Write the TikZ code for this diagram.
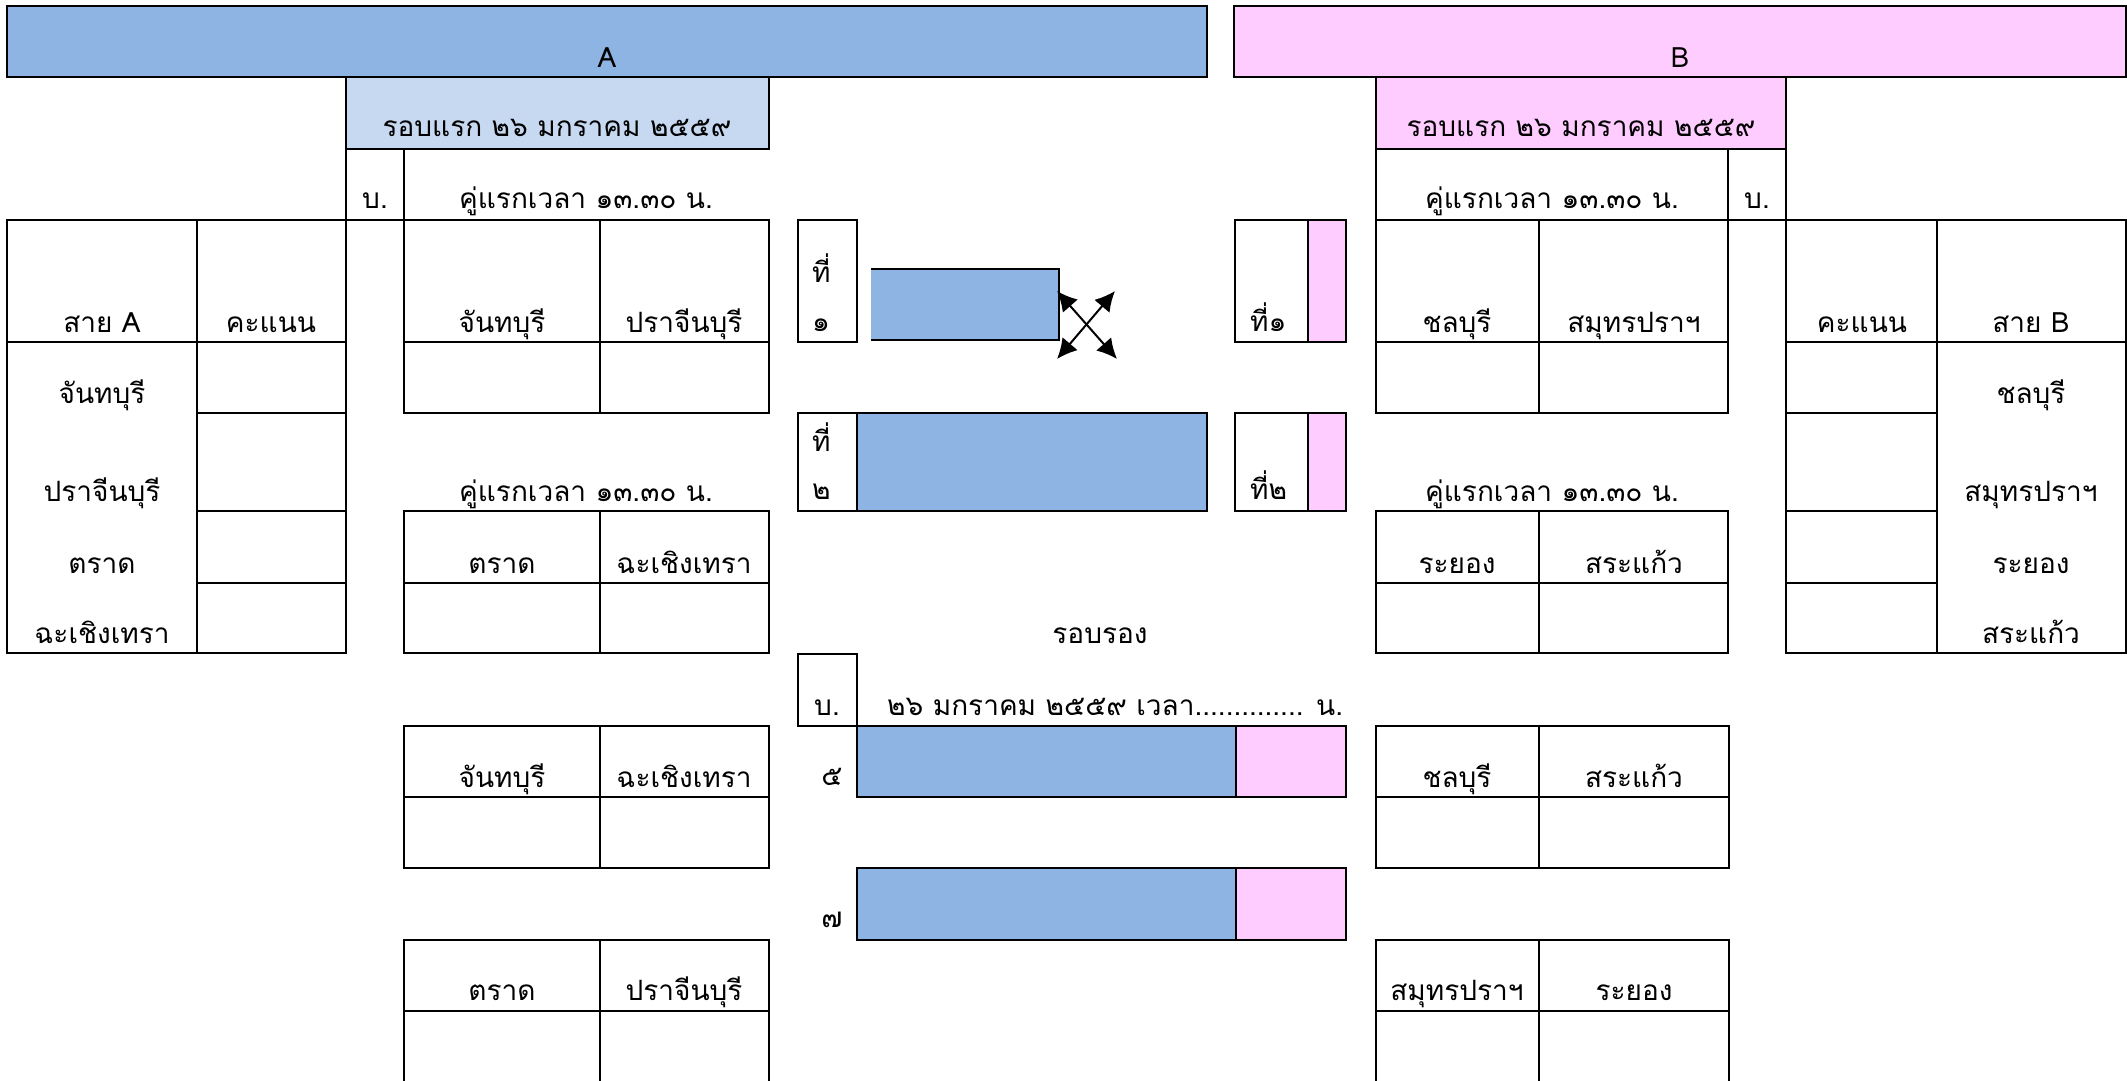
\documentclass[tikz,border=0pt]{standalone}
\usepackage{fontspec}
\setmainfont[Script=Thai]{Loma}
\usetikzlibrary{arrows.meta}
\definecolor{barA}{HTML}{8EB4E3}
\definecolor{lightA}{HTML}{C6D9F1}
\definecolor{pinkB}{HTML}{FFCCFF}
\begin{document}
\begin{tikzpicture}[x=1pt,y=-1pt,
  bl/.style={line width=2pt},
  thinl/.style={line width=1.5pt},
  t/.style={anchor=base,inner sep=0pt,font=\fontsize{28}{30}\selectfont},
  tw/.style={anchor=base west,inner sep=0pt,font=\fontsize{28}{30}\selectfont},
  dbl/.style={line width=2pt,{Latex[length=20pt,width=20pt]}-{Latex[length=20pt,width=20pt]}},
]
\useasboundingbox (0,0) rectangle (2127,1080);
% top bars
\draw[bl,fill=barA] (7,6) rectangle (1207,77);
\draw[bl,fill=pinkB] (1234,6) rectangle (2126,77);
\node[t] (tA) at (607,67) {A};
\node[t] (tB) at (1680,67) {B};
% round headers
\draw[bl,fill=lightA] (346,77) rectangle (769,149);
\draw[bl,fill=pinkB] (1376,77) rectangle (1786,149);
\node[t] (rA) at (557,136) {รอบแรก ๒๖ มกราคม ๒๕๕๙};
\node[t] (rB) at (1581,136) {รอบแรก ๒๖ มกราคม ๒๕๕๙};
% A side b. column
\draw[bl] (346,149) -- (346,220) (404,149) -- (404,220);
\node[t] (bA) at (375,208) {บ.};
\node[t] (kA1) at (586,208) {คู่แรกเวลา ๑๓.๓๐ น.};
% B side cell and b. column
\draw[bl] (1376,149) -- (1376,220) (1728,149) -- (1728,220) (1786,149) -- (1786,220);
\node[t] (kB1) at (1552,208) {คู่แรกเวลา ๑๓.๓๐ น.};
\node[t] (bB) at (1757,208) {บ.};
% left table A
\draw[bl] (7,220) rectangle (346,653);
\draw[bl] (197,220) -- (197,653) (7,342) -- (346,342);
\draw[bl] (197,413) -- (346,413) (197,511) -- (346,511) (197,583) -- (346,583);
\draw[bl] (346,220) -- (404,220);
\node[t] (h1) at (102,332) {สาย A};
\node[t] (h2) at (271,332) {คะแนน};
\node[t] (l1) at (102,403) {จันทบุรี};
\node[t] (l2) at (102,501) {ปราจีนบุรี};
\node[t] (l3) at (102,573) {ตราด};
\node[t] (l4) at (102,643) {ฉะเชิงเทรา};
% central A tables
\draw[bl] (404,220) rectangle (769,413);
\draw[bl] (600,220) -- (600,413) (404,342) -- (769,342);
\node[t] (a11) at (502,332) {จันทบุรี};
\node[t] (a12) at (684,332) {ปราจีนบุรี};
\node[t] (kA2) at (586,501) {คู่แรกเวลา ๑๓.๓๐ น.};
\draw[bl] (404,511) rectangle (769,653);
\draw[bl] (600,511) -- (600,653) (404,583) -- (769,583);
\node[t] (a21) at (502,573) {ตราด};
\node[t] (a22) at (684,573) {ฉะเชิงเทรา};
% central B tables
\draw[bl] (1376,220) rectangle (1728,413);
\draw[bl] (1539,220) -- (1539,413) (1376,342) -- (1728,342);
\draw[bl] (1728,220) -- (1786,220);
\node[t] (b11) at (1457,332) {ชลบุรี};
\node[t] (b12) at (1634,332) {สมุทรปราฯ};
\node[t] (kB2) at (1552,501) {คู่แรกเวลา ๑๓.๓๐ น.};
\draw[bl] (1376,511) rectangle (1728,653);
\draw[bl] (1539,511) -- (1539,653) (1376,583) -- (1728,583);
\node[t] (b21) at (1457,573) {ระยอง};
\node[t] (b22) at (1634,573) {สระแก้ว};
% right table B
\draw[bl] (1786,220) rectangle (2126,653);
\draw[bl] (1937,220) -- (1937,653) (1786,342) -- (2126,342);
\draw[bl] (1786,413) -- (1937,413) (1786,511) -- (1937,511) (1786,583) -- (1937,583);
\node[t] (g1) at (1862,332) {คะแนน};
\node[t] (g2) at (2031,332) {สาย B};
\node[t] (r1) at (2031,403) {ชลบุรี};
\node[t] (r2) at (2031,501) {สมุทรปราฯ};
\node[t] (r3) at (2031,573) {ระยอง};
\node[t] (r4) at (2031,643) {สระแก้ว};
% centre: places 1 and 2
\draw[bl] (798,220) rectangle (857,342);
\node[tw] (p1a) at (812,282) {ที่};
\node[tw] (p1b) at (812,331) {๑};
\fill[barA] (871,269) rectangle (1059,340);
\draw[bl] (871,269) -- (1059,269) -- (1059,340) -- (871,340);
\coordinate (x1s) at (1057,291);
\coordinate (x1e) at (1117,359);
\coordinate (x2s) at (1057,359);
\coordinate (x2e) at (1115,291);
\draw[dbl] (x1s) -- (x1e);
\draw[dbl] (x2s) -- (x2e);
\draw[bl] (798,413) rectangle (857,511);
\node[tw] (p2a) at (812,451) {ที่};
\node[tw] (p2b) at (812,499) {๒};
\draw[bl,fill=barA] (857,413) rectangle (1207,511);
% right places
\fill[pinkB] (1308,220) rectangle (1346,342);
\draw[bl] (1235,220) rectangle (1346,342) (1308,220) -- (1308,342);
\node[tw] (q1) at (1250,331) {ที่๑};
\fill[pinkB] (1308,413) rectangle (1346,511);
\draw[bl] (1235,413) rectangle (1346,511) (1308,413) -- (1308,511);
\node[tw] (q2) at (1250,499) {ที่๒};
% second round
\node[t] (rr) at (1100,643) {รอบรอง};
\draw[thinl] (798,654) rectangle (857,726);
\node[t] (bC) at (827,715) {บ.};
\node[tw] (dC) at (887,715) {๒๖ มกราคม ๒๕๕๙ เวลา.............. น.};
\fill[barA] (857,726) rectangle (1236,797);
\fill[pinkB] (1236,726) rectangle (1346,797);
\draw[thinl] (1236,726) -- (1236,797);
\draw[bl] (857,726) rectangle (1346,797);
\node[t] (n5) at (832,785) {๕};
\fill[barA] (857,868) rectangle (1236,940);
\fill[pinkB] (1236,868) rectangle (1346,940);
\draw[thinl] (1236,868) -- (1236,940);
\draw[bl] (857,868) rectangle (1346,940);
\node[t] (n7) at (832,927) {๗};
% bottom left tables
\draw[bl] (404,726) rectangle (769,868);
\draw[bl] (600,726) -- (600,868) (404,797) -- (769,797);
\node[t] (c11) at (502,787) {จันทบุรี};
\node[t] (c12) at (684,787) {ฉะเชิงเทรา};
\draw[bl] (404,1084) -- (404,940) -- (769,940) -- (769,1084);
\draw[bl] (600,940) -- (600,1084) (404,1011) -- (769,1011);
\node[t] (c21) at (502,1000) {ตราด};
\node[t] (c22) at (684,1000) {ปราจีนบุรี};
% bottom right tables
\draw[bl] (1376,726) rectangle (1729,868);
\draw[bl] (1539,726) -- (1539,868) (1376,797) -- (1729,797);
\node[t] (d11) at (1457,787) {ชลบุรี};
\node[t] (d12) at (1634,787) {สระแก้ว};
\draw[bl] (1376,1084) -- (1376,940) -- (1729,940) -- (1729,1084);
\draw[bl] (1539,940) -- (1539,1084) (1376,1011) -- (1729,1011);
\node[t] (d21) at (1457,1000) {สมุทรปราฯ};
\node[t] (d22) at (1634,1000) {ระยอง};
\end{tikzpicture}
\end{document}
